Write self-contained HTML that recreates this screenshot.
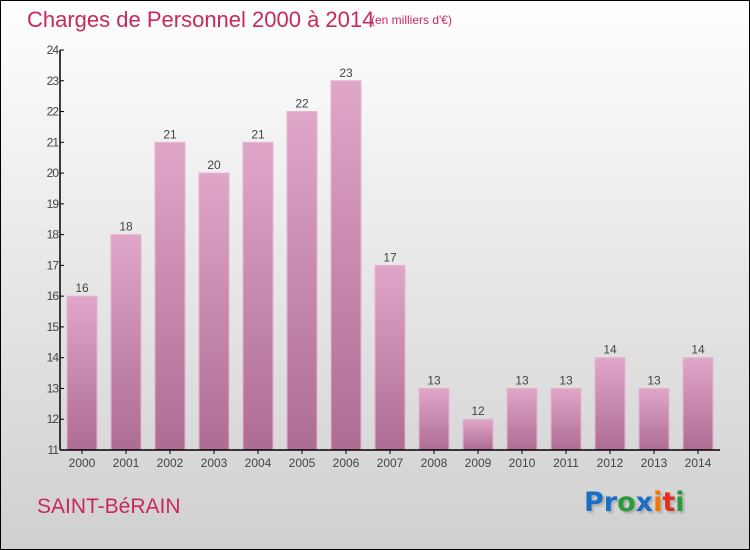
<!DOCTYPE html>
<html><head><meta charset="utf-8"><style>
body{margin:0}
#c{position:relative;width:748px;height:548px;border:1px solid #000;background:linear-gradient(#ffffff,#f0f0f0 30%,#d0d0d0);overflow:hidden;font-family:"Liberation Sans",sans-serif}
.t{position:absolute;color:#c8285a;white-space:nowrap}
</style></head><body>
<div id="c">
<div class="t" style="left:26px;top:6px;font-size:22px;font-weight:300">Charges de Personnel 2000 à 2014</div>
<div class="t" style="left:370px;top:12px;font-size:12px">(en milliers d'€)</div>
<div class="t" style="left:36px;top:494px;font-size:21px">SAINT-BéRAIN</div>
<div style="position:absolute;left:583px;top:486px;font-size:27px;font-family:'DejaVu Sans',sans-serif;font-weight:bold;text-shadow:2px 2px 2px #aaa"><span style="color:#1a6ec8">Pr</span><span style="color:#2a9a3a">o</span><span style="color:#1a6ec8">x</span><span style="color:#f07800">i</span><span style="color:#e03020">t</span><span style="color:#2a9a3a">i</span></div>
<svg id="s" width="748" height="548" style="position:absolute;left:0;top:0">
<defs><linearGradient id="g" x1="0" y1="0" x2="0" y2="1"><stop offset="0" stop-color="#e0a6c8"/><stop offset="1" stop-color="#ae6c94"/></linearGradient></defs>
</svg>
</div>
<script>
const categories=["2000","2001","2002","2003","2004","2005","2006","2007","2008","2009","2010","2011","2012","2013","2014"];
const values=[16,18,21,20,21,22,23,17,13,12,13,13,14,13,14];
const yTicks=[11,12,13,14,15,16,17,18,19,20,21,22,23,24];
const svg=document.getElementById('s');const NS='http://www.w3.org/2000/svg';
const x0=59,step=44,yMin=11,yMax=24,yTop=49,yBot=449;
const y=v=>yBot-(v-yMin)/(yMax-yMin)*(yBot-yTop);
const bx=i=>x0+i*step;
function mk(t,a,txt){const e=document.createElementNS(NS,t);for(const k in a)e.setAttribute(k,a[k]);if(txt!==undefined)e.textContent=txt;svg.appendChild(e);return e;}
values.forEach((v,i)=>{
 const r=mk('rect',{x:bx(i)+7,y:y(v),width:30,height:yBot-y(v),fill:'url(#g)',stroke:'#e8b4d2','stroke-width':1});
 
 
 const l=mk('text',{x:bx(i)+22,y:y(v)-4,'text-anchor':'middle','font-size':12,fill:'#444','font-family':'Liberation Sans'},String(v));
 
 
 const c=mk('text',{x:bx(i)+22,y:466,'text-anchor':'middle','font-size':12,fill:'#444','font-family':'Liberation Sans'},categories[i]);
 
 
 mk('line',{x1:bx(i)+22,x2:bx(i)+22,y1:yBot,y2:yBot+4,stroke:'#000'});
});
yTicks.forEach(t=>{
 mk('line',{x1:x0,x2:x0+4,y1:y(t),y2:y(t),stroke:'#000'});
 const e=mk('text',{x:x0-2,y:y(t)+4,'text-anchor':'end','font-size':12,fill:'#444','font-family':'Liberation Sans','letter-spacing':'-1'},String(t));
 
 
});
const ya=mk('line',{x1:x0,x2:x0,y1:yTop,y2:yBot,stroke:'#000','stroke-width':1.5});


const xa=mk('line',{x1:x0,x2:x0+step*categories.length,y1:yBot,y2:yBot,stroke:'#000','stroke-width':1.5});


</script>
</body></html>
